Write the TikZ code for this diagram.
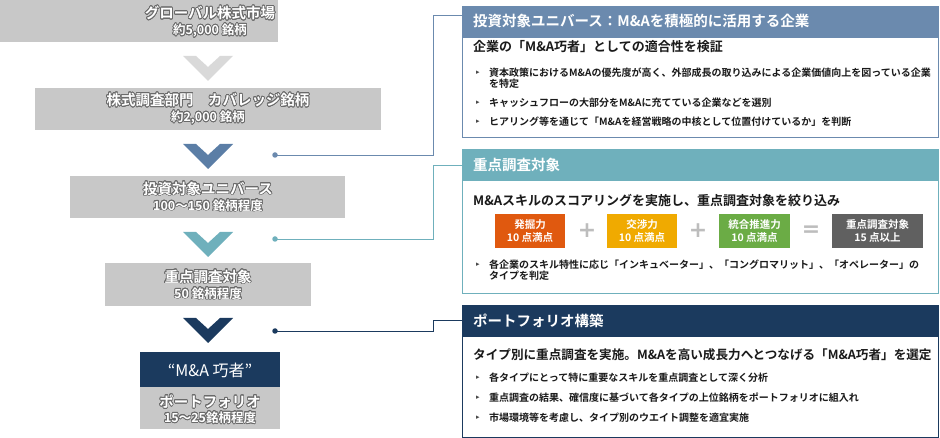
\documentclass[tikz,border=0pt]{standalone}
\usepackage{fontspec}
\setmainfont{Noto Sans CJK JP}[BoldFont={Noto Sans CJK JP Bold}]
\newfontfamily\symfont{DejaVu Sans}
\usepackage{contour}
\contourlength{0.7pt}
\contournumber{24}
\definecolor{lgray}{HTML}{C8C8C8}
\definecolor{chevg}{HTML}{D9D9D9}
\definecolor{colA}{HTML}{6B8AAE}
\definecolor{chevA}{HTML}{5B7EA6}
\definecolor{colB}{HTML}{6FB0BC}
\definecolor{colC}{HTML}{1B3A5E}
\definecolor{orng}{HTML}{E0590F}
\definecolor{yell}{HTML}{F0AA00}
\definecolor{grn}{HTML}{6BAC45}
\definecolor{dgray}{HTML}{606060}
\definecolor{opgray}{HTML}{BDBDBD}
\definecolor{olc}{HTML}{6A6A6A}
\definecolor{txt}{HTML}{1A1A1A}
\newcommand{\oltx}[1]{\contour{olc}{#1}}
\newcommand{\bigln}{\fontsize{14.5}{16}\selectfont}
\begin{document}
\begin{tikzpicture}[x=1pt,y=-1pt,
  lbox/.style={fill=lgray, draw=none, inner sep=0, anchor=north west},
  ltext/.style={text=white, align=center, inner sep=0, font=\fontsize{12.5}{16}\selectfont\bfseries},
  dot/.style={circle, inner sep=0, minimum size=5.5},
  conn/.style={line width=0.9pt},
  rbox/.style={draw, line width=1pt, fill=white, inner sep=0, anchor=north west, minimum width=476},
  rhead/.style={inner sep=0, anchor=north west, minimum width=476, minimum height=32},
  htext/.style={anchor=west, text=white, inner sep=0, font=\fontsize{14.5}{16}\selectfont\bfseries},
  sub/.style={anchor=west, text=txt, inner sep=0, font=\fontsize{13}{15}\selectfont\bfseries},
  btext/.style={anchor=west, text=txt, inner sep=0, align=left, font=\fontsize{10}{11}\selectfont\bfseries},
  bmark/.style={text=txt!80, inner sep=0, font=\symfont\fontsize{7}{7}\selectfont},
  sbox/.style={text=white, align=center, inner sep=0, minimum height=34, font=\fontsize{10.5}{12.5}\selectfont\bfseries},
  opsym/.style={text=opgray, inner sep=0, font=\symfont\bfseries\fontsize{22}{22}\selectfont},
  pics/chev/.style={code={\fill[#1] (-25,0) -- (-12,0) -- (0,11) -- (12,0) -- (25,0) -- (0,25) -- cycle;}}
]
\useasboundingbox (0,0) rectangle (940,438);

% ---- left column ----
\node[lbox, minimum width=278, minimum height=42] (g1) at (0,0) {};
\node[ltext] (g1t) at (210,22) {\oltx{\bigln グローバル株式市場}\\\oltx{約5,000 銘柄}};
\pic at (208,56) {chev=chevg};
\node[lbox, minimum width=346, minimum height=42] (g2) at (35,88) {};
\node[ltext] (g2t) at (208,109) {\oltx{\bigln 株式調査部門　カバレッジ銘柄}\\\oltx{約2,000 銘柄}};
\pic at (208,144) {chev=chevA};
\node[lbox, minimum width=275, minimum height=42] (g3) at (70,176) {};
\node[ltext] (g3t) at (208,197) {\oltx{\bigln 投資対象ユニバース}\\\oltx{100〜150 銘柄程度}};
\pic at (208,232) {chev=colB};
\node[lbox, minimum width=206, minimum height=43] (g4) at (105,263) {};
\node[ltext] (g4t) at (208,285) {\oltx{\bigln 重点調査対象}\\\oltx{50 銘柄程度}};
\pic at (208,318) {chev=colC};
\node[lbox, fill=colC, minimum width=140, minimum height=35] (g5h) at (140,352) {};
\node[text=white, inner sep=0, font=\fontsize{16}{16}\selectfont] (g5ht) at (210,370) {“M\&A 巧者”};
\node[lbox, minimum width=140, minimum height=42] (g5) at (140,387) {};
\node[ltext, font=\fontsize{12.5}{15}\selectfont\bfseries] (g5t) at (210,409.5) {\oltx{\bigln ポートフォリオ}\\\oltx{15〜25銘柄程度}};

% ---- right boxes ----
\node[rbox, draw=colA, minimum height=131] (A) at (462,6) {};
\node[rhead, fill=colA] (Ah) at (462,6) {};
\node[htext] (Aht) at (473,21) {投資対象ユニバース：M\&Aを積極的に活用する企業};
\node[sub] (As) at (473,47) {企業の「M\&A巧者」としての適合性を検証};
\node[bmark] (Am1) at (478,73) {▸};
\node[btext] (Ab1) at (489,78.5) {資本政策におけるM\&Aの優先度が高く、外部成長の取り込みによる企業価値向上を図っている企業\\を特定};
\node[bmark] (Am2) at (478,103) {▸};
\node[btext] (Ab2) at (489,103) {キャッシュフローの大部分をM\&Aに充てている企業などを選別};
\node[bmark] (Am3) at (478,122) {▸};
\node[btext] (Ab3) at (489,122) {ヒアリング等を通じて「M\&Aを経営戦略の中核として位置付けているか」を判断};

\node[rbox, draw=colB, minimum height=144] (B) at (462,149) {};
\node[rhead, fill=colB] (Bh) at (462,149) {};
\node[htext] (Bht) at (473,165) {重点調査対象};
\node[sub] (Bs) at (473,200) {M\&Aスキルのスコアリングを実施し、重点調査対象を絞り込み};
\node[sbox, fill=orng, minimum width=70] (s1) at (530,231) {発掘力\\10 点満点};
\node[opsym] (p1) at (587,231) {+};
\node[sbox, fill=yell, minimum width=70] (s2) at (642,231) {交渉力\\10 点満点};
\node[opsym] (p2) at (698,231) {+};
\node[sbox, fill=grn, minimum width=71] (s3) at (754.5,231) {統合推進力\\10 点満点};
\node[opsym] (eq) at (811,231) {=};
\node[sbox, fill=dgray, minimum width=91] (s4) at (877.5,231) {重点調査対象\\15 点以上};
\node[bmark] (Bm1) at (478,265) {▸};
\node[btext] (Bb1) at (489,270.5) {各企業のスキル特性に応じ「インキュベーター」、「コングロマリット」、「オペレーター」の\\タイプを判定};

\node[rbox, draw=colC, minimum height=132] (C) at (462,305) {};
\node[rhead, fill=colC] (Ch) at (462,305) {};
\node[htext] (Cht) at (473,321) {ポートフォリオ構築};
\node[sub, font=\fontsize{12.6}{15}\selectfont\bfseries] (Cs) at (473,355) {タイプ別に重点調査を実施。M\&Aを高い成長力へとつなげる「M\&A巧者」を選定};
\node[bmark] (Cm1) at (478,378) {▸};
\node[btext] (Cb1) at (489,378) {各タイプにとって特に重要なスキルを重点調査として深く分析};
\node[bmark] (Cm2) at (478,398) {▸};
\node[btext] (Cb2) at (489,398) {重点調査の結果、確信度に基づいて各タイプの上位銘柄をポートフォリオに組入れ};
\node[bmark] (Cm3) at (478,418) {▸};
\node[btext] (Cb3) at (489,418) {市場環境等を考慮し、タイプ別のウエイト調整を適宜実施};

% ---- connectors ----
\node[dot, fill=colA] (d1) at (275,155) {};
\node[dot, fill=colB] (d2) at (275,239) {};
\node[dot, fill=colC] (d3) at (275,331) {};
\coordinate (k1) at (433,15);
\coordinate (k2) at (433,165);
\coordinate (k3) at (433,320);
\draw[conn, colA] (d1.center) -| (k1) -- (k1 -| A.west);
\draw[conn, colB] (d2.center) -| (k2) -- (k2 -| B.west);
\draw[conn, colC] (d3.center) -| (k3) -- (k3 -| C.west);
\end{tikzpicture}
\end{document}
